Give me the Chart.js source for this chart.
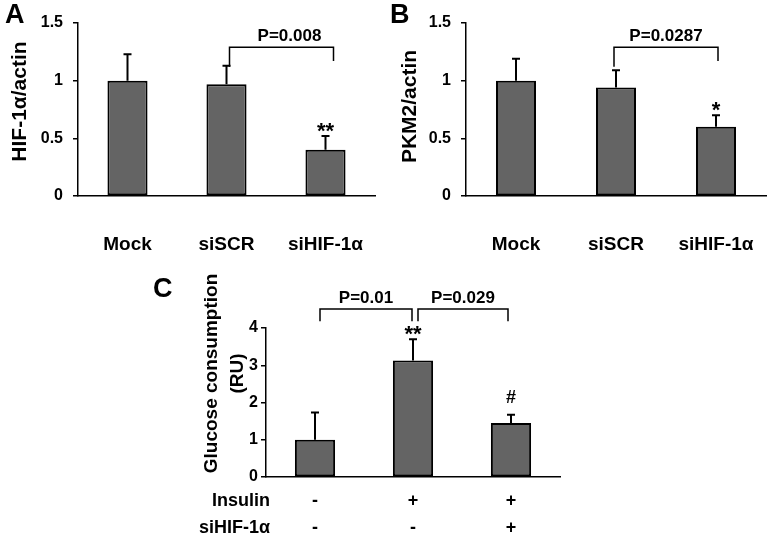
<!DOCTYPE html>
<html>
<head>
<meta charset="utf-8">
<script src="https://cdn.jsdelivr.net/npm/chart.js@4.4.0/dist/chart.umd.min.js"></script>
<style>
  body { margin: 0; background: #fff; }
  #page { position: relative; width: 773px; height: 541px; overflow: hidden; background: #fff; }
  canvas { position: absolute; }
  .letter { position: absolute; font: bold 27px Arial, "Liberation Sans", sans-serif; line-height: 27px; color: #000; }
</style>
</head>
<body>
<div id="page">
  <canvas id="chartA" width="386" height="270" style="left:0;top:0"></canvas>
  <canvas id="chartB" width="387" height="270" style="left:386px;top:0"></canvas>
  <canvas id="chartC" width="420" height="271" style="left:150px;top:270px"></canvas>
  <div class="letter" style="left:5px;top:1px">A</div>
  <div class="letter" style="left:390px;top:1px">B</div>
  <div class="letter" style="left:153px;top:275px">C</div>
</div>
<script>
const FONT = 'Arial, "Liberation Sans", sans-serif';

// panels A and B
const groupsAB = ['Mock', 'siSCR', 'siHIF-1α'];
const hifMeans = [1.0, 0.97, 0.40];
const hifErrors = [0.23, 0.16, 0.12];
const pkmMeans = [1.0, 0.94, 0.60];
const pkmErrors = [0.19, 0.15, 0.10];
const yTicksAB = ['0', '0.5', '1', '1.5'];

// panel C
const insulinRow = ['-', '+', '+'];
const sihifRow = ['-', '-', '+'];
const rowNames = ['Insulin', 'siHIF-1α'];
const glucoseMeans = [1.0, 3.13, 1.45];
const glucoseErrors = [0.73, 0.57, 0.22];
const yTicksC = ['0', '1', '2', '3', '4'];

Chart.defaults.font.family = FONT;
Chart.defaults.color = '#000';

// error bars, significance brackets, stars, rotated y title, row names
const extras = {
  id: 'extras',
  afterDatasetsDraw(chart, args, opts) {
    const {ctx, chartArea} = chart;
    const xs = chart.scales.x, ys = chart.scales.y;
    const meta = chart.getDatasetMeta(0);
    const vals = chart.data.datasets[0].data;
    ctx.save();
    ctx.strokeStyle = '#000';
    ctx.fillStyle = '#000';

    ctx.lineWidth = 2;
    meta.data.forEach((bar, i) => {
      const top = ys.getPixelForValue(vals[i] + opts.errors[i]);
      ctx.beginPath();
      ctx.moveTo(bar.x, bar.y);
      ctx.lineTo(bar.x, top);
      ctx.moveTo(bar.x - 4, top);
      ctx.lineTo(bar.x + 4, top);
      ctx.stroke();
    });

    (opts.brackets || []).forEach(b => {
      const xa = xs.getPixelForValue(b.from) + b.dxFrom;
      const xb = xs.getPixelForValue(b.to) + b.dxTo;
      const yt = ys.getPixelForValue(b.level);
      ctx.lineWidth = 1.5;
      ctx.beginPath();
      ctx.moveTo(xa, ys.getPixelForValue(b.footFrom));
      ctx.lineTo(xa, yt);
      ctx.lineTo(xb, yt);
      ctx.lineTo(xb, ys.getPixelForValue(b.footTo));
      ctx.stroke();
      ctx.font = 'bold 17px ' + FONT;
      ctx.textAlign = 'center';
      ctx.textBaseline = 'alphabetic';
      ctx.fillText(b.text, (xa + xb) / 2 + (b.dxText || 0), yt - 6);
    });

    (opts.marks || []).forEach(m => {
      const bar = meta.data[m.index];
      const top = ys.getPixelForValue(vals[m.index] + opts.errors[m.index]);
      ctx.font = 'bold ' + m.size + 'px ' + FONT;
      ctx.textAlign = 'center';
      ctx.textBaseline = 'alphabetic';
      ctx.fillText(m.text, bar.x, top + m.dy);
    });

    const t = opts.title;
    ctx.font = 'bold ' + t.size + 'px ' + FONT;
    ctx.textAlign = 'center';
    ctx.textBaseline = 'middle';
    t.lines.forEach((line, i) => {
      ctx.save();
      ctx.translate(chartArea.left + t.dx + i * t.gap, (chartArea.top + chartArea.bottom) / 2 + t.dy);
      ctx.rotate(-Math.PI / 2);
      ctx.fillText(line, 0, 0);
      ctx.restore();
    });

    if (opts.rows) {
      const r = opts.rows;
      ctx.font = 'bold ' + r.size + 'px ' + FONT;
      ctx.textAlign = 'right';
      ctx.textBaseline = 'middle';
      r.names.forEach((name, i) => {
        ctx.fillText(name, chartArea.left + r.dx, xs.top + r.pad + r.lh * (i + 0.5));
      });
    }
    ctx.restore();
  }
};

function makeChart(id, labels, values, cfg) {
  return new Chart(document.getElementById(id), {
    type: 'bar',
    data: {
      labels: labels,
      datasets: [{
        data: values,
        backgroundColor: '#646464',
        borderColor: '#000',
        borderWidth: 2,
        borderSkipped: false,
        barPercentage: cfg.barPct,
        categoryPercentage: 1
      }]
    },
    plugins: [extras],
    options: {
      responsive: false,
      animation: false,
      layout: { padding: cfg.padding },
      plugins: {
        legend: { display: false },
        tooltip: { enabled: false },
        extras: cfg.extras
      },
      scales: {
        x: {
          grid: { display: false, drawTicks: false },
          border: { display: true, color: '#000', width: 1.5 },
          ticks: {
            color: '#000',
            font: { size: cfg.xFont, weight: 'bold', lineHeight: cfg.xLine },
            padding: cfg.xPad,
            maxRotation: 0,
            autoSkip: false
          },
          afterFit: s => { s.height = cfg.xHeight; }
        },
        y: {
          min: 0,
          max: cfg.yMax,
          ticks: {
            stepSize: cfg.yStep,
            color: '#000',
            font: { size: 16, weight: 'bold' },
            padding: cfg.yPad,
            callback: (v, i) => cfg.yLabels[i]
          },
          grid: { display: true, drawOnChartArea: false, drawTicks: true, tickLength: 5, color: '#000', lineWidth: 1.5 },
          border: { display: true, color: '#000', width: 1.5 },
          afterFit: s => { s.width = cfg.yWidth; }
        }
      }
    }
  });
}

// single-line category labels: a tall line box pushes them down without
// adding horizontal padding to the x scale
makeChart('chartA', groupsAB, hifMeans, {
  padding: { left: 0, top: 23, right: 11, bottom: 0 },
  yWidth: 78, xHeight: 74, yMax: 1.5, yStep: 0.5, yLabels: yTicksAB, yPad: 10,
  xFont: 19, xLine: '98px', xPad: 0, barPct: 0.405,
  extras: {
    errors: hifErrors,
    brackets: [{ from: 1, to: 2, level: 1.29, footFrom: 1.12, footTo: 1.17, dxFrom: 3, dxTo: 8, dxText: 8, text: 'P=0.008' }],
    marks: [{ index: 2, text: '**', size: 22, dy: 2 }],
    title: { lines: ['HIF-1α/actin'], size: 21, dx: -58, dy: -8, gap: 0 }
  }
});

makeChart('chartB', groupsAB, pkmMeans, {
  padding: { left: 0, top: 23, right: 7, bottom: 0 },
  yWidth: 80, xHeight: 74, yMax: 1.5, yStep: 0.5, yLabels: yTicksAB, yPad: 10,
  xFont: 19, xLine: '98px', xPad: 0, barPct: 0.4,
  extras: {
    errors: pkmErrors,
    brackets: [{ from: 1, to: 2, level: 1.29, footFrom: 1.12, footTo: 1.17, dxFrom: -2, dxTo: 2, text: 'P=0.0287' }],
    marks: [{ index: 2, text: '*', size: 22, dy: 2 }],
    title: { lines: ['PKM2/actin'], size: 21, dx: -56, dy: -3, gap: 0 }
  }
});

makeChart('chartC', insulinRow.map((v, i) => [v, sihifRow[i]]), glucoseMeans, {
  padding: { left: 0, top: 58, right: 10, bottom: 0 },
  yWidth: 116, xHeight: 64, yMax: 4, yStep: 1, yLabels: yTicksC, yPad: 3,
  xFont: 18, xLine: 1.48, xPad: 11, barPct: 0.41,
  extras: {
    errors: glucoseErrors,
    brackets: [
      { from: 0, to: 1, level: 4.51, footFrom: 4.18, footTo: 4.18, dxFrom: 5, dxTo: -1, text: 'P=0.01' },
      { from: 1, to: 2, level: 4.51, footFrom: 4.18, footTo: 4.18, dxFrom: 5, dxTo: -3, text: 'P=0.029' }
    ],
    marks: [
      { index: 1, text: '**', size: 22, dy: 2 },
      { index: 2, text: '#', size: 18, dy: -12 }
    ],
    title: { lines: ['Glucose consumption', '(RU)'], size: 19, dx: -54, dy: -29, gap: 26 },
    rows: { names: rowNames, size: 18, dx: 4, pad: 11, lh: 26.6 }
  }
});
</script>
</body>
</html>
